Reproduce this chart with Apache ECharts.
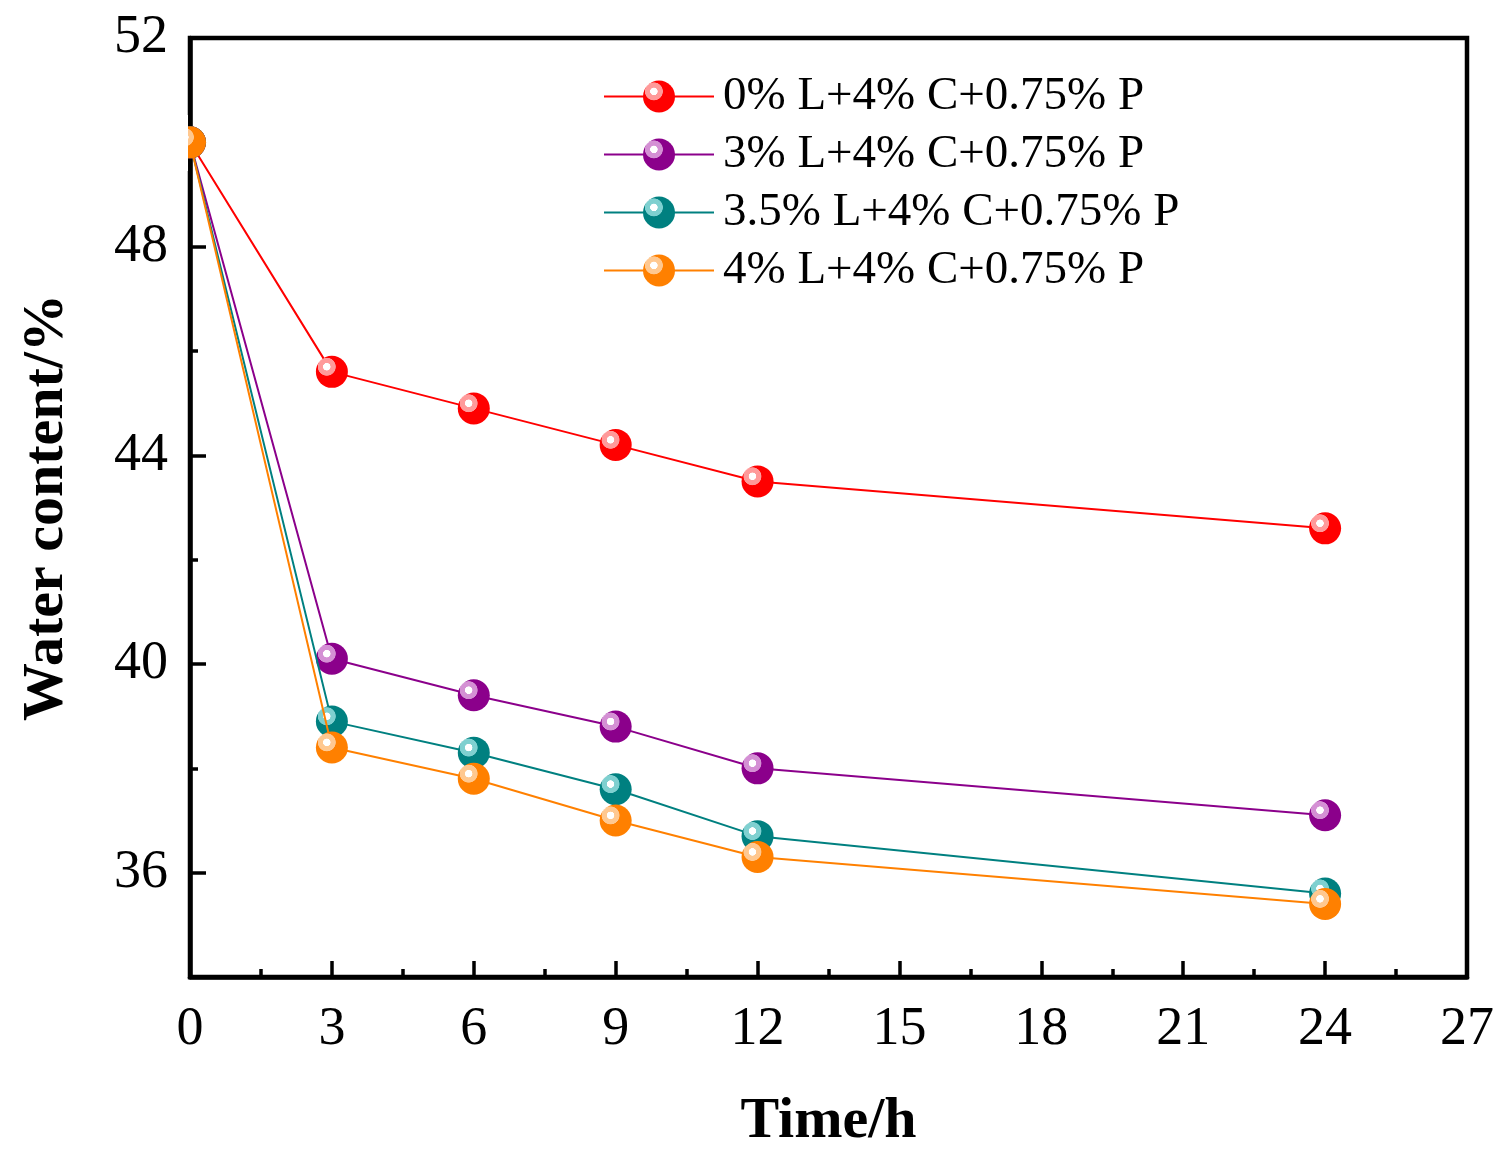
<!DOCTYPE html>
<html>
<head>
<meta charset="utf-8">
<script src="https://cdn.jsdelivr.net/npm/echarts@6/dist/echarts.min.js"></script>
<style>html,body{margin:0;padding:0;background:#fff;}#c{width:1511px;height:1161px;}</style>
</head>
<body>
<div id="c"></div>
<script>
var times = [0, 3, 6, 9, 12, 24];
var seriesNames = ['0% L+4% C+0.75% P', '3% L+4% C+0.75% P', '3.5% L+4% C+0.75% P', '4% L+4% C+0.75% P'];
var red = [50.0, 45.6, 44.9, 44.2, 43.5, 42.6];
var purple = [50.0, 40.1, 39.4, 38.8, 38.0, 37.1];
var teal = [50.0, 38.9, 38.3, 37.6, 36.7, 35.6];
var orange = [50.0, 38.4, 37.8, 37.0, 36.3, 35.4];
var yMajorTicks = [36, 40, 44, 48, 52];
var yMinorTicks = [38, 42, 46, 50];

var colors = ['#FF0000', '#8B008B', '#008080', '#FF8000'];
var lights = ['#FF9A9A', '#D490D4', '#7FD0D0', '#FFC890'];
var allData = [red, purple, teal, orange];
var font = '"Liberation Serif", "DejaVu Serif", serif';

function sphere(base, light) {
  return {
    type: 'radial', x: 0.34, y: 0.34, r: 0.5,
    colorStops: [
      {offset: 0, color: '#FFFFFF'},
      {offset: 0.22, color: '#FFFFFF'},
      {offset: 0.25, color: light},
      {offset: 0.54, color: light},
      {offset: 0.58, color: base},
      {offset: 1, color: base}
    ]
  };
}

var series = seriesNames.map(function (n, i) {
  return {
    name: n,
    type: 'line',
    data: times.map(function (t, j) { return [t, allData[i][j]]; }),
    symbol: 'circle',
    symbolSize: 32,
    lineStyle: {color: colors[i], width: 2},
    itemStyle: {color: sphere(colors[i], lights[i]), borderWidth: 0},
    color: colors[i],
    z: 2 + i
  };
});

var chart = echarts.init(document.getElementById('c'));
chart.setOption({
  animation: false,
  backgroundColor: '#fff',
  grid: {left: 190, top: 38, right: 44, bottom: 184, containLabel: false, outerBoundsMode: 'none', show: true, borderColor: '#000', borderWidth: 4.5, backgroundColor: 'transparent'},
  legend: {
    orient: 'vertical', left: 598, top: 68,
    itemWidth: 110, itemHeight: 40, itemGap: 11,
    textStyle: {fontFamily: font, fontSize: 47, lineHeight: 40, color: '#000', padding: [0, 0, 0, 4]},
    data: seriesNames
  },
  graphic: {
    elements: [{
      type: 'rect', z: 100, left: 140, top: 115,
      shape: {width: 48, height: 56},
      style: {fill: '#ffffff'}
    }]
  },
  xAxis: {
    type: 'value', min: 0, max: 27, interval: 3,
    name: 'Time/h', nameLocation: 'middle', nameGap: 116,
    nameTextStyle: {fontFamily: font, fontSize: 58, fontWeight: 'bold', color: '#000'},
    axisLine: {show: true, lineStyle: {color: '#000', width: 4.5}},
    axisTick: {show: true, inside: true, length: 16, lineStyle: {color: '#000', width: 3.5}},
    minorTick: {show: true, splitNumber: 2, length: 8, lineStyle: {color: '#000', width: 3.5}},
    axisLabel: {fontFamily: font, fontSize: 54, color: '#000', margin: 26},
    splitLine: {show: false}, minorSplitLine: {show: false}
  },
  yAxis: [{
    type: 'value', min: 34, max: 52, interval: 2,
    name: 'Water content/%', nameLocation: 'middle', nameGap: 114, nameRotate: 90,
    nameTextStyle: {fontFamily: font, fontSize: 58, fontWeight: 'bold', color: '#000'},
    axisLine: {show: true, lineStyle: {color: '#000', width: 4.5}},
    axisTick: {show: true, inside: true, length: 16, customValues: yMajorTicks, lineStyle: {color: '#000', width: 3.5}},
    axisLabel: {fontFamily: font, fontSize: 54, color: '#000', margin: 22, customValues: yMajorTicks},
    splitLine: {show: false}
  }, {
    type: 'value', min: 34, max: 52, interval: 2, position: 'left',
    axisLine: {show: false},
    axisTick: {show: true, inside: true, length: 8, customValues: yMinorTicks, lineStyle: {color: '#000', width: 3.5}},
    axisLabel: {show: false},
    splitLine: {show: false}
  }],
  series: series
});
</script>
</body>
</html>
